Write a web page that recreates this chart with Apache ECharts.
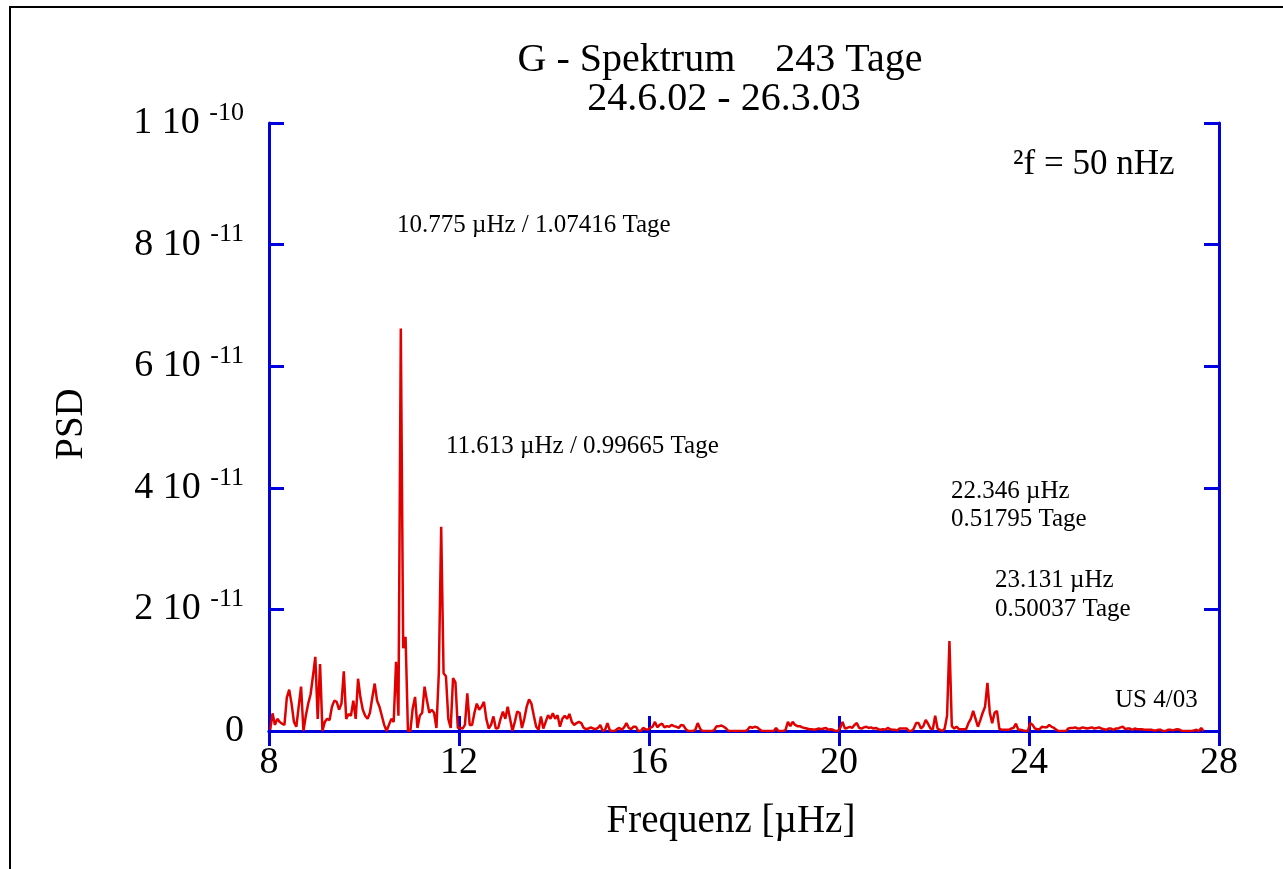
<!DOCTYPE html>
<html>
<head>
<meta charset="utf-8">
<script src="https://cdn.jsdelivr.net/npm/echarts@6/dist/echarts.min.js"></script>
<style>
html, body { margin: 0; padding: 0; background: #fff; }
#spectrum { width: 1283px; height: 869px; }
</style>
</head>
<body>
<div id="spectrum"></div>
<script>
// Frequenzraster: erster Bin und Schrittweite (Δf = 50 nHz) in µHz
const F0 = 8.025;
const DF = 0.05;

// PSD-Werte in Einheiten von 1e-11, je 20 Werte pro µHz
const psd = [
  // 8.025 .. 8.975
  0.02, 0.29, 0.10, 0.20, 0.15, 0.12, 0.10, 0.55, 0.68, 0.45, 0.15, 0.07, 0.40, 0.73, 0.00, 0.25, 0.45, 0.60, 0.90, 1.22,
  // 9.025 .. 9.975
  0.20, 1.10, 0.00, 0.15, 0.20, 0.18, 0.40, 0.50, 0.48, 0.35, 0.45, 0.98, 0.20, 0.28, 0.25, 0.50, 0.20, 0.86, 0.55, 0.35,
  // 10.025 .. 10.975
  0.25, 0.20, 0.30, 0.55, 0.78, 0.50, 0.40, 0.25, 0.10, 0.00, 0.10, 0.20, 0.15, 1.14, 0.25, 6.62, 1.36, 1.55, 0.00, 0.00,
  // 11.025 .. 11.975
  0.37, 0.56, 0.05, 0.25, 0.30, 0.73, 0.50, 0.30, 0.35, 0.30, 0.05, 0.95, 3.36, 0.95, 0.90, 0.20, 0.05, 0.87, 0.80, 0.05,
  // 12.025 .. 12.975
  0.05, 0.04, 0.10, 0.62, 0.10, 0.10, 0.30, 0.45, 0.35, 0.40, 0.48, 0.20, 0.04, 0.10, 0.24, 0.04, 0.05, 0.20, 0.32, 0.20,
  // 13.025 .. 13.975
  0.40, 0.20, 0.00, 0.15, 0.32, 0.30, 0.05, 0.20, 0.40, 0.52, 0.45, 0.25, 0.07, 0.02, 0.24, 0.04, 0.15, 0.26, 0.20, 0.29,
  // 14.025 .. 14.975
  0.20, 0.26, 0.07, 0.20, 0.25, 0.20, 0.28, 0.15, 0.10, 0.13, 0.15, 0.13, 0.05, 0.03, 0.04, 0.06, 0.04, 0.03, 0.05, 0.10,
  // 15.025 .. 15.975
  0.00, 0.02, 0.13, 0.01, 0.00, 0.00, 0.03, 0.05, 0.02, 0.06, 0.13, 0.05, 0.03, 0.07, 0.07, 0.00, 0.00, 0.05, 0.03, 0.02,
  // 16.025 .. 16.975
  0.05, 0.07, 0.15, 0.06, 0.10, 0.12, 0.06, 0.08, 0.07, 0.10, 0.08, 0.07, 0.05, 0.10, 0.09, 0.03, 0.00, 0.00, 0.00, 0.02,
  // 17.025 .. 17.975
  0.13, 0.04, 0.00, 0.00, 0.00, 0.00, 0.00, 0.02, 0.08, 0.08, 0.09, 0.07, 0.04, 0.00, 0.00, 0.00, 0.00, 0.00, 0.00, 0.00,
  // 18.025 .. 18.975
  0.00, 0.02, 0.07, 0.05, 0.07, 0.06, 0.03, 0.00, 0.00, 0.00, 0.00, 0.00, 0.00, 0.05, 0.00, 0.00, 0.00, 0.02, 0.15, 0.08,
  // 19.025 .. 19.975
  0.15, 0.10, 0.08, 0.08, 0.06, 0.05, 0.04, 0.03, 0.03, 0.02, 0.03, 0.04, 0.03, 0.04, 0.05, 0.02, 0.03, 0.02, 0.00, 0.00,
  // 20.025 .. 20.975
  0.05, 0.15, 0.04, 0.05, 0.07, 0.05, 0.10, 0.13, 0.05, 0.04, 0.06, 0.07, 0.05, 0.06, 0.04, 0.05, 0.03, 0.02, 0.03, 0.02,
  // 21.025 .. 21.975
  0.05, 0.03, 0.02, 0.02, 0.01, 0.04, 0.04, 0.04, 0.04, 0.00, 0.00, 0.04, 0.13, 0.13, 0.04, 0.08, 0.18, 0.12, 0.04, 0.03,
  // 22.025 .. 22.975
  0.25, 0.04, 0.02, 0.00, 0.04, 0.25, 1.48, 0.08, 0.04, 0.07, 0.03, 0.03, 0.03, 0.03, 0.13, 0.20, 0.33, 0.20, 0.07, 0.18,
  // 23.025 .. 23.975
  0.30, 0.40, 0.79, 0.30, 0.13, 0.30, 0.33, 0.04, 0.02, 0.02, 0.02, 0.02, 0.04, 0.05, 0.12, 0.02, 0.02, 0.01, 0.00, 0.00,
  // 24.025 .. 24.975
  0.13, 0.10, 0.04, 0.03, 0.03, 0.07, 0.06, 0.06, 0.10, 0.07, 0.05, 0.02, 0.00, 0.00, 0.00, 0.00, 0.04, 0.05, 0.05, 0.06,
  // 25.025 .. 25.975
  0.04, 0.04, 0.06, 0.05, 0.04, 0.05, 0.06, 0.04, 0.05, 0.06, 0.04, 0.03, 0.02, 0.04, 0.04, 0.02, 0.04, 0.04, 0.06, 0.07,
  // 26.025 .. 26.975
  0.03, 0.04, 0.04, 0.02, 0.04, 0.03, 0.03, 0.03, 0.02, 0.02, 0.02, 0.02, 0.01, 0.01, 0.02, 0.02, 0.00, 0.00, 0.02, 0.02,
  // 27.025 .. 27.675
  0.01, 0.02, 0.03, 0.02, 0.00, 0.00, 0.00, 0.00, 0.00, 0.01, 0.02, 0.00, 0.05, 0.00
];

const xTicks = [8, 12, 16, 20, 24, 28];
const yTicks = [0, 2, 4, 6, 8, 10];

const titleLines = ['G - Spektrum    243 Tage', '24.6.02 - 26.3.03'];
const notes = [
  { text: '10.775 µHz / 1.07416 Tage', x: 397, y: 225 },
  { text: '11.613 µHz / 0.99665 Tage', x: 446, y: 446 },
  { text: '22.346 µHz', x: 951, y: 491 },
  { text: '0.51795 Tage', x: 951, y: 519 },
  { text: '23.131 µHz', x: 995, y: 580 },
  { text: '0.50037 Tage', x: 995, y: 609 },
  { text: 'US 4/03', x: 1115, y: 700 }
];

const SERIF = '"Liberation Serif", "DejaVu Serif", serif';
const BLUE = '#0000dc';
const RED = '#e00000';

let myChart = echarts.init(document.getElementById('spectrum'));
let data = psd.map((v, i) => [+(F0 + i * DF).toFixed(3), v]);

function yLabel(v) {
    if (v === 0) return '{a|0}';
    if (v === 10) return '{a|1 10 }{b|-10}';
    return '{a|' + v + ' 10 }{b|-11}';
}

let axisCommon = {
    axisLine: { lineStyle: { color: BLUE, width: 3 } },
    axisTick: { inside: true, length: 15, lineStyle: { color: BLUE, width: 3 } },
    splitLine: { show: false }
};

function txt(x, y, text, size, align, extra) {
    return Object.assign({
        type: 'text', x: x, y: y,
        style: { text: text, font: size + 'px ' + SERIF, fill: '#000', align: align, verticalAlign: 'middle', textAlign: align, textVerticalAlign: 'middle' }
    }, extra || {});
}

let graphics = [
    // äußerer Rahmen (rechts und unten abgeschnitten)
    { type: 'rect', shape: { x: 10, y: 7, width: 1400, height: 1000 }, style: { fill: 'none', stroke: '#000', lineWidth: 2 }, silent: true },
    txt(720, 60, titleLines[0], 40, 'center'),
    txt(724, 99, titleLines[1], 40, 'center'),
    txt(731, 822, 'Frequenz [µHz]', 39, 'center'),
    txt(72, 424, 'PSD', 39, 'center', { rotation: Math.PI / 2 }),
    txt(1013, 165, '²f = 50 nHz', 35, 'left')
];
notes.forEach(n => graphics.push(txt(n.x, n.y, n.text, 25, 'left')));

myChart.setOption({
    animation: false,
    backgroundColor: '#fff',
    grid: { left: 269, top: 123, right: 64, bottom: 138 },
    xAxis: [
        Object.assign({
            type: 'value', position: 'bottom', min: xTicks[0], max: xTicks[xTicks.length - 1], interval: 4,
            axisLabel: { margin: 13, fontFamily: SERIF, fontSize: 38, color: '#000' }
        }, axisCommon),
        Object.assign({
            type: 'value', position: 'top', min: xTicks[0], max: xTicks[xTicks.length - 1], interval: 4,
            axisLabel: { show: false }
        }, axisCommon)
    ],
    yAxis: [
        Object.assign({
            type: 'value', position: 'left', min: yTicks[0], max: yTicks[yTicks.length - 1], interval: 2,
            axisLabel: {
                margin: 25, color: '#000', formatter: yLabel,
                rich: {
                    a: { fontFamily: SERIF, fontSize: 38, lineHeight: 46, color: '#000' },
                    b: { fontFamily: SERIF, fontSize: 26, lineHeight: 26, verticalAlign: 'top', color: '#000' }
                }
            }
        }, axisCommon),
        Object.assign({
            type: 'value', position: 'right', min: yTicks[0], max: yTicks[yTicks.length - 1], interval: 2,
            axisLabel: { show: false }
        }, axisCommon)
    ],
    series: [
        {
            name: 'PSD',
            type: 'line',
            xAxisIndex: 0,
            yAxisIndex: 0,
            symbol: 'none',
            lineStyle: { color: RED, width: 2.5 },
            data: data
        }
    ],
    graphic: graphics
});
</script>
</body>
</html>
